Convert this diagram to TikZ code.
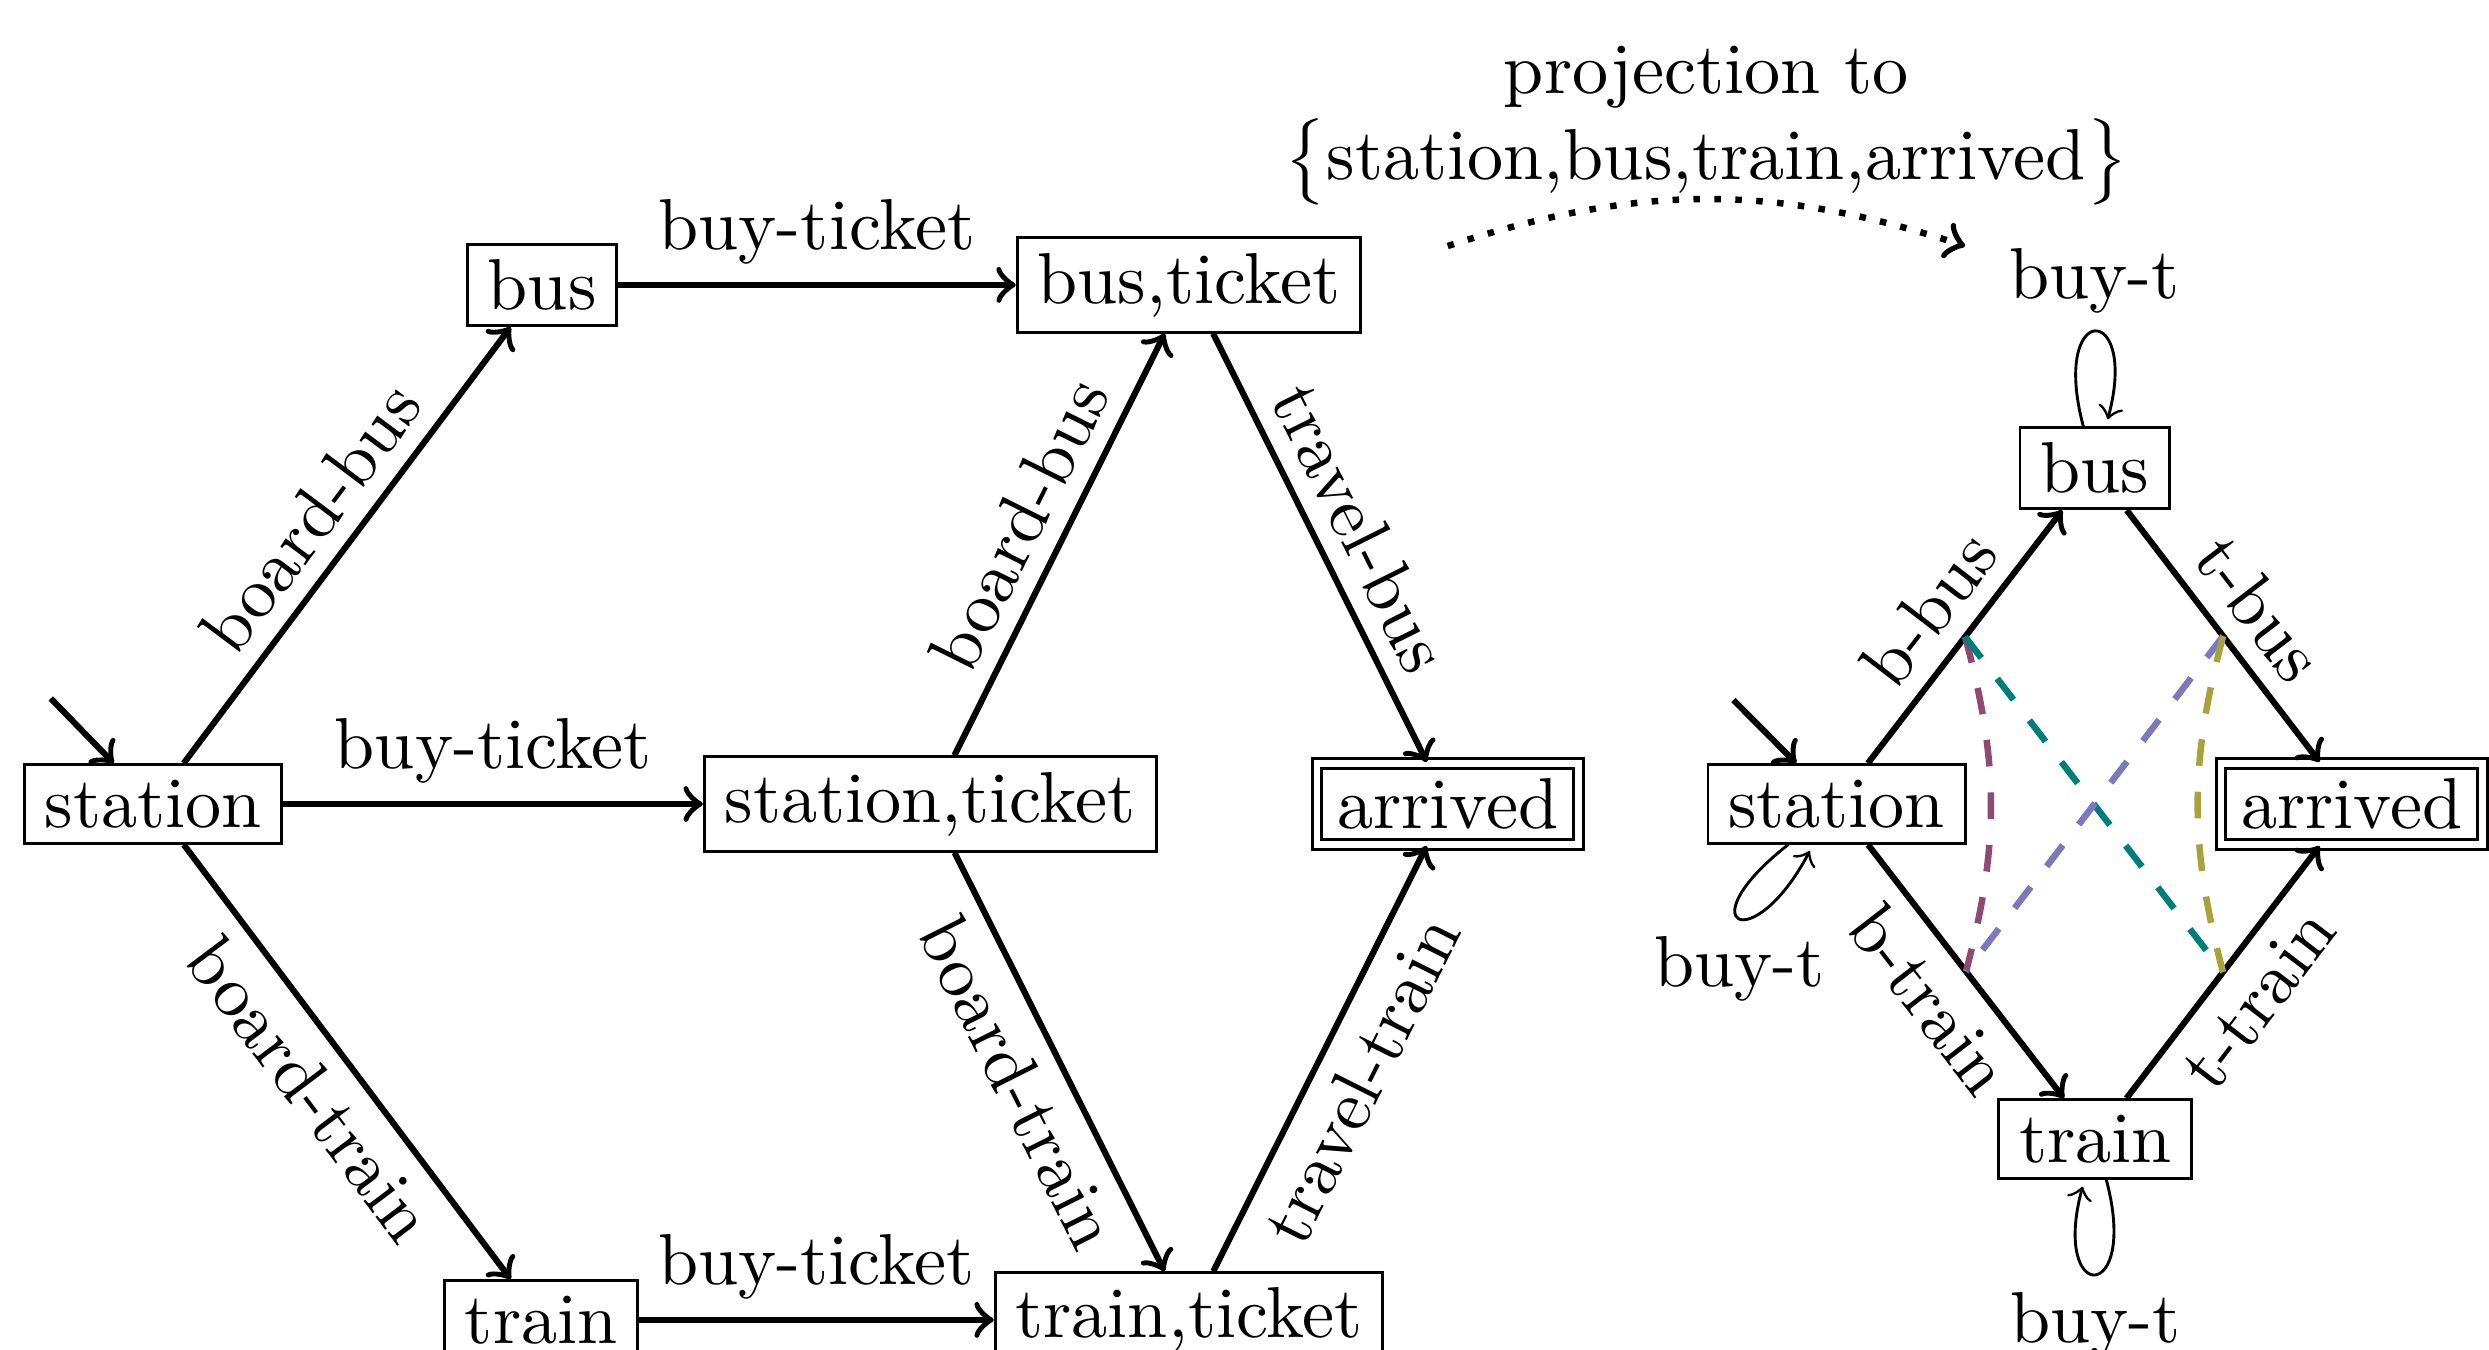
\documentclass[tikz,border=0pt]{standalone}
\usetikzlibrary{arrows}
\definecolor{cplum}{RGB}{143,74,114}
\definecolor{cteal}{RGB}{0,127,122}
\definecolor{clav}{RGB}{122,120,190}
\definecolor{colive}{RGB}{169,162,58}
\begin{document}
\begin{tikzpicture}[x=0.22pt,y=-0.22pt,
  statebox/.style={draw, line width=0.4pt, rectangle, inner xsep=2.8pt, inner ysep=2.1pt},
  finalbox/.style={statebox, double, double distance=0.9pt},
  trans/.style={->, line width=0.85pt},
  lbl/.style={inner sep=2.4pt},
  dashline/.style={line width=0.9pt, dash pattern=on 3.7pt off 3.6pt},
  loopline/.style={->, line width=0.4pt, shorten >=1pt}
]
\useasboundingbox (0,0) rectangle (1568,850);

% ---------- left automaton ----------
\node[statebox] (st)  at (96.5,506.5) {station};
\node[statebox] (bus) at (341.5,179.5) {bus};
\node[statebox] (bt)  at (749,179.5) {bus,ticket};
\node[statebox] (stt) at (586,506.5) {station,ticket};
\node[finalbox] (arr) at (912,506.5) {arrived};
\node[statebox] (tr)  at (341,831.5) {train};
\node[statebox] (tt)  at (749,831.5) {train,ticket};
\coordinate (i1) at (32,440);

\draw[trans] (i1) -- (st);
\draw[trans] (st) -- node[lbl,sloped,above]{board-bus} (bus);
\draw[trans] (st) -- node[lbl,above]{buy-ticket} (stt);
\draw[trans] (st) -- node[lbl,sloped,below]{board-train} (tr);
\draw[trans] (bus) -- node[lbl,above]{buy-ticket} (bt);
\draw[trans] (stt) -- node[lbl,sloped,above]{board-bus} (bt);
\draw[trans] (stt) -- node[lbl,sloped,below]{board-train} (tt);
\draw[trans] (tr) -- node[lbl,above]{buy-ticket} (tt);
\draw[trans] (bt) -- node[lbl,sloped,above]{travel-bus} (arr);
\draw[trans] (tt) -- node[lbl,sloped,below]{travel-train} (arr);

% ---------- projection annotation ----------
\node[align=center, inner sep=0pt] (proj) at (1075,79) {projection to\\$\big\{$station,bus,train,arrived$\big\}$};
\coordinate (d1) at (912,155);
\coordinate (d2) at (1238,155);
\draw[->, line width=0.9pt, dotted] (d1) to[bend left=18] (d2);

% ---------- right automaton ----------
\node[statebox] (st2)  at (1157,506.5) {station};
\node[statebox] (bus2) at (1319.5,295) {bus};
\node[finalbox] (arr2) at (1481.5,506.5) {arrived};
\node[statebox] (tr2)  at (1320,717.5) {train};
\coordinate (i2) at (1092,441);

\draw[trans] (i2) -- (st2);
\draw[trans] (st2) -- node[lbl,sloped,above]{b-bus} coordinate[pos=0.5] (m1) (bus2);
\draw[trans] (bus2) -- node[lbl,sloped,above]{t-bus} coordinate[pos=0.5] (m2) (arr2);
\draw[trans] (st2) -- node[lbl,sloped,below]{b-train} coordinate[pos=0.5] (m3) (tr2);
\draw[trans] (tr2) -- node[lbl,sloped,below]{t-train} coordinate[pos=0.5] (m4) (arr2);

\draw[loopline] (bus2.105) to[out=105, in=75, distance=18pt] node[lbl,above]{buy-t} (bus2.75);
\draw[loopline] (tr2.-75) to[out=-75, in=-105, distance=18pt] node[lbl,below]{buy-t} (tr2.-105);
\draw[loopline] (st2.-140) to[out=-142, in=-118, distance=18pt] node[lbl,below]{buy-t} (st2.-120);

\draw[dashline, cplum] (m1) to[bend left=15] (m3);
\draw[dashline, cteal] (m1) -- (m4);
\draw[dashline, clav] (m2) -- (m3);
\draw[dashline, colive] (m2) to[bend right=15] (m4);
\end{tikzpicture}
\end{document}
